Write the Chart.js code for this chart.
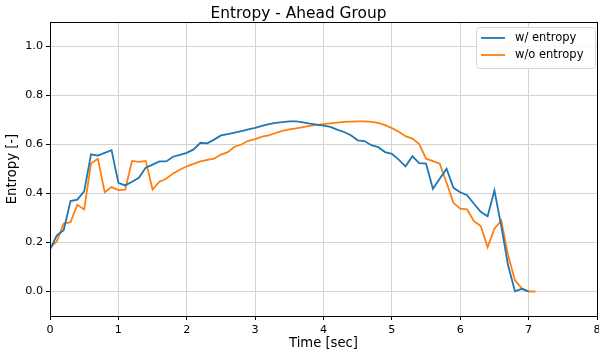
<!DOCTYPE html>
<html>
<head>
<meta charset="utf-8">
<script src="https://cdn.jsdelivr.net/npm/chart.js@4.4.1/dist/chart.umd.min.js"></script>
<style>
  html, body { margin: 0; padding: 0; background: #fff; }
  #wrap { width: 599px; height: 356px; }
</style>
</head>
<body>
<div id="wrap"><canvas id="c"></canvas></div>
<script>
// time axis (sec), sampled every 0.1 s
const times = [0.0, 0.1, 0.2, 0.3, 0.4, 0.5, 0.6, 0.7, 0.8, 0.9,
  1.0, 1.1, 1.2, 1.3, 1.4, 1.5, 1.6, 1.7, 1.8, 1.9,
  2.0, 2.1, 2.2, 2.3, 2.4, 2.5, 2.6, 2.7, 2.8, 2.9,
  3.0, 3.1, 3.2, 3.3, 3.4, 3.5, 3.6, 3.7, 3.8, 3.9,
  4.0, 4.1, 4.2, 4.3, 4.4, 4.5, 4.6, 4.7, 4.8, 4.9,
  5.0, 5.1, 5.2, 5.3, 5.4, 5.5, 5.6, 5.7, 5.8, 5.9,
  6.0, 6.1, 6.2, 6.3, 6.4, 6.5, 6.6, 6.7, 6.8, 6.9,
  7.0, 7.1];

const withEntropy = [0.171, 0.229, 0.250, 0.369, 0.375, 0.409, 0.560, 0.555, 0.566, 0.577,
  0.444, 0.433, 0.448, 0.464, 0.505, 0.518, 0.531, 0.531, 0.550, 0.558,
  0.566, 0.580, 0.607, 0.605, 0.620, 0.637, 0.642, 0.648, 0.655, 0.662,
  0.668, 0.676, 0.683, 0.688, 0.691, 0.694, 0.694, 0.690, 0.685, 0.681,
  0.677, 0.672, 0.661, 0.651, 0.638, 0.617, 0.614, 0.597, 0.589, 0.569,
  0.562, 0.538, 0.511, 0.552, 0.524, 0.522, 0.419, 0.460, 0.501, 0.423,
  0.405, 0.393, 0.358, 0.325, 0.307, 0.412, 0.267, 0.106, 0.001, 0.011,
  0.000];

const withoutEntropy = [0.178, 0.205, 0.277, 0.283, 0.354, 0.335, 0.522, 0.542, 0.405, 0.426,
  0.414, 0.416, 0.533, 0.529, 0.533, 0.416, 0.448, 0.460, 0.482, 0.497,
  0.511, 0.521, 0.531, 0.537, 0.542, 0.559, 0.569, 0.591, 0.600, 0.615,
  0.622, 0.632, 0.637, 0.647, 0.656, 0.662, 0.666, 0.671, 0.676, 0.680,
  0.683, 0.686, 0.689, 0.692, 0.693, 0.694, 0.694, 0.692, 0.688, 0.679,
  0.667, 0.652, 0.634, 0.624, 0.602, 0.542, 0.532, 0.522, 0.444, 0.362,
  0.338, 0.335, 0.287, 0.267, 0.181, 0.256, 0.290, 0.147, 0.046, 0.013,
  0.000, 0.000];

const seriesNames = ['w/ entropy', 'w/o entropy'];
const yTicks = [0.0, 0.2, 0.4, 0.6, 0.8, 1.0];

const FONT = "'DejaVu Sans', sans-serif";

function toPoints(vals) {
  return vals.map((v, i) => ({ x: times[i], y: v }));
}

// matplotlib style box around the axes
const framePlugin = {
  id: 'frame',
  afterDatasetsDraw(chart) {
    const a = chart.chartArea;
    const ctx = chart.ctx;
    ctx.save();
    ctx.strokeStyle = '#000';
    ctx.lineWidth = 1;
    ctx.strokeRect(Math.round(a.left) + 0.5, Math.round(a.top) + 0.5,
      Math.round(a.right - a.left), Math.round(a.bottom - a.top));
    ctx.restore();
  }
};

// legend in upper right corner, inside the axes
const boxLegend = {
  id: 'boxLegend',
  afterDraw(chart) {
    const a = chart.chartArea;
    const ctx = chart.ctx;
    const w = 119, h = 41;
    const x = a.right - w - 2, y = a.top + 5;
    ctx.save();
    ctx.beginPath();
    ctx.roundRect(x + 0.5, y + 0.5, w, h, 3);
    ctx.fillStyle = 'rgba(255,255,255,0.8)';
    ctx.fill();
    ctx.strokeStyle = '#d5d5d5';
    ctx.lineWidth = 1;
    ctx.stroke();
    ctx.font = '11.5px ' + FONT;
    ctx.textBaseline = 'middle';
    chart.data.datasets.forEach((ds, i) => {
      const ly = y + 11 + i * 17;
      ctx.strokeStyle = ds.borderColor;
      ctx.lineWidth = 1.8;
      ctx.beginPath();
      ctx.moveTo(x + 5, ly);
      ctx.lineTo(x + 29, ly);
      ctx.stroke();
      ctx.fillStyle = '#000';
      ctx.fillText(ds.label, x + 39, ly);
    });
    ctx.restore();
  }
};

new Chart(document.getElementById('c'), {
  type: 'line',
  data: {
    datasets: [
      {
        label: seriesNames[0],
        data: toPoints(withEntropy),
        borderColor: '#1f77b4',
        backgroundColor: '#1f77b4',
        borderWidth: 1.8,
        pointRadius: 0,
        tension: 0
      },
      {
        label: seriesNames[1],
        data: toPoints(withoutEntropy),
        borderColor: '#ff7f0e',
        backgroundColor: '#ff7f0e',
        borderWidth: 1.8,
        pointRadius: 0,
        tension: 0
      }
    ]
  },
  options: {
    responsive: true,
    maintainAspectRatio: false,
    animation: false,
    layout: { padding: { left: 0, right: 2, top: 0, bottom: 0 } },
    plugins: {
      legend: { display: false },
      tooltip: { enabled: false },
      title: {
        display: true,
        text: 'Entropy - Ahead Group',
        color: '#000',
        font: { family: FONT, size: 15.4, weight: 'normal', lineHeight: 1 },
        padding: { top: 6, bottom: 0.6 }
      }
    },
    scales: {
      x: {
        type: 'linear',
        min: 0,
        max: 8,
        border: { display: false },
        grid: { color: '#d4d4d4', lineWidth: 1, tickColor: '#000', tickLength: 4 },
        ticks: { stepSize: 1, color: '#000', padding: 3, maxRotation: 0,
          font: { family: FONT, size: 11.2 } },
        title: { display: true, text: 'Time [sec]', color: '#000',
          font: { family: FONT, size: 13.2 }, padding: { top: 0, bottom: 4.5 } },
        afterFit(scale) {
          scale.height = 40;
          scale.paddingRight = 0;
          scale.paddingLeft = 0;
        }
      },
      y: {
        type: 'linear',
        min: -0.1,
        max: 1.1,
        border: { display: false },
        grid: { color: '#d4d4d4', lineWidth: 1, tickColor: '#000', tickLength: 4 },
        afterBuildTicks(scale) { scale.ticks = yTicks.map(v => ({ value: v })); },
        ticks: { color: '#000', padding: 3,
          font: { family: FONT, size: 11.2 },
          callback: v => v.toFixed(1) },
        title: { display: true, text: 'Entropy [-]', color: '#000',
          font: { family: FONT, size: 13.2 }, padding: { top: 5, bottom: 0 } },
        afterFit(scale) { scale.width = 50; }
      }
    }
  },
  plugins: [framePlugin, boxLegend]
});
</script>
</body>
</html>
